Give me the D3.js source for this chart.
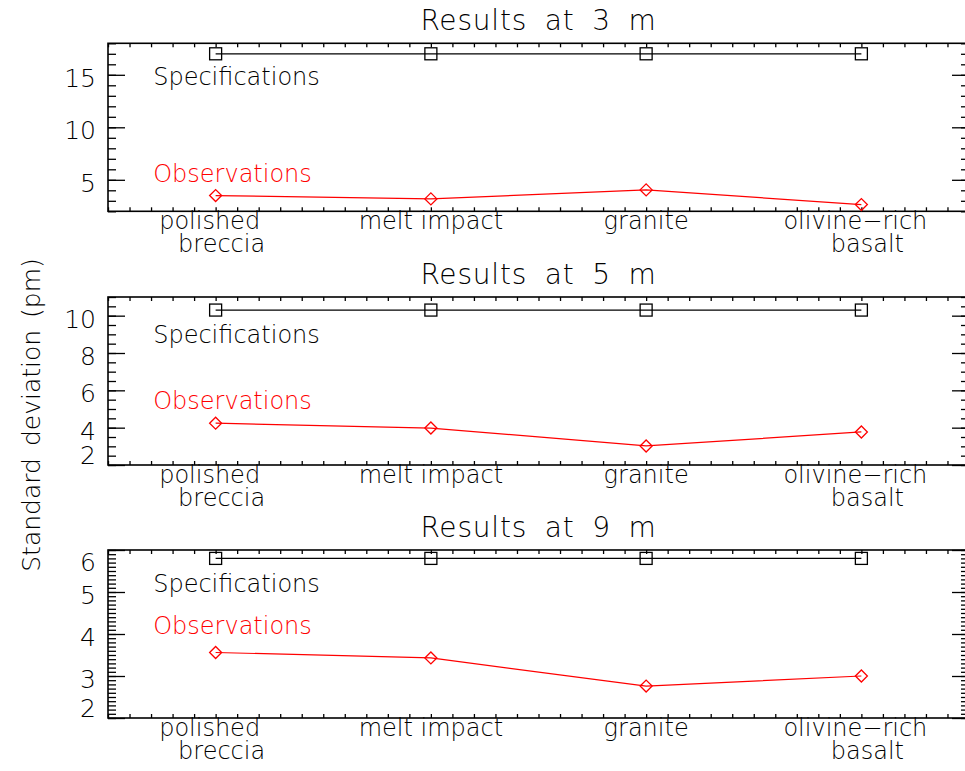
<!DOCTYPE html>
<html>
<head>
<meta charset="utf-8">
<script src="https://cdn.jsdelivr.net/npm/d3@7"></script>
<style>
  body { margin: 0; background: #fff; }
  svg { display: block; }
  text { font-family: "DejaVu Sans", sans-serif; font-weight: 200; }
</style>
</head>
<body>
<svg id="chart"></svg>
<script>
// categories along x (1..4)
const categories = ["polished\nbreccia", "melt impact", "granite", "olivine\u2212rich\nbasalt"]
const distances = [3, 5, 9]

// standard deviation values (pm) per distance
const specs3 = [17, 17, 17, 17]
const obs3 = [3.5, 3.18, 4.04, 2.64]
const specs5 = [10.3, 10.3, 10.3, 10.3]
const obs5 = [4.24, 3.98, 3.02, 3.77]
const specs9 = [5.8, 5.8, 5.8, 5.8]
const obs9 = [3.56, 3.43, 2.76, 3.0]

// y axis ranges and tick labels
const yRanges = [[2, 18], [2, 11], [2, 6]]
const yTicks3 = [5, 10, 15]
const yTicks5 = [2, 4, 6, 8, 10]
const yTicks9 = [2, 3, 4, 5, 6]
const yMinor = [1, 0.5, 0.1]

// where the "Specifications" / "Observations" notes sit (data units)
const specNoteY = [14, 8.55, 5.0]
const obsNoteY = [4.75, 5.0, 4.0]
const noteX = 0.71

const width = 965, height = 771
const left = 108, right = 969
const panelTop = [43.3, 297, 550], panelH = 168

const svg = d3.select("#chart").attr("width", width).attr("height", height)

const x = d3.scaleLinear().domain([0.5, 4.5]).range([left, right])
const xMinorTicks = d3.range(0.5, 4.5001, 0.1)

const panels = [
  {dist: distances[0], spec: specs3, obs: obs3, ticks: yTicks3},
  {dist: distances[1], spec: specs5, obs: obs5, ticks: yTicks5},
  {dist: distances[2], spec: specs9, obs: obs9, ticks: yTicks9}
]

panels.forEach(function(p, i){
  const top = panelTop[i], bottom = top + panelH
  const y = d3.scaleLinear().domain(yRanges[i]).range([bottom, top])
  const g = svg.append("g")

  // minor y ticks (left and right)
  const minorVals = d3.range(yRanges[i][0], yRanges[i][1] + 1e-6, yMinor[i])
  g.append("g").attr("transform", `translate(${left},0)`)
    .call(d3.axisLeft(y).tickValues(minorVals).tickSize(-8).tickSizeOuter(0).tickFormat(""))
  g.append("g").attr("transform", `translate(${right},0)`)
    .call(d3.axisRight(y).tickValues(minorVals).tickSize(-8).tickSizeOuter(0).tickFormat(""))
  // major y ticks
  g.append("g").attr("transform", `translate(${left},0)`)
    .call(d3.axisLeft(y).tickValues(p.ticks).tickSize(-17).tickSizeOuter(0).tickFormat(""))
  g.append("g").attr("transform", `translate(${right},0)`)
    .call(d3.axisRight(y).tickValues(p.ticks).tickSize(-17).tickSizeOuter(0).tickFormat(""))
  // x ticks top and bottom
  g.append("g").attr("transform", `translate(0,${bottom})`)
    .call(d3.axisBottom(x).tickValues(xMinorTicks).tickSize(-4).tickSizeOuter(0).tickFormat(""))
  g.append("g").attr("transform", `translate(0,${top})`)
    .call(d3.axisTop(x).tickValues(xMinorTicks).tickSize(-4).tickSizeOuter(0).tickFormat(""))

  g.selectAll(".domain").remove()
  g.selectAll(".tick line").attr("stroke", "#000").attr("stroke-width", 1.3)

  // frame
  g.append("rect").attr("x", left).attr("y", top)
    .attr("width", right - left).attr("height", panelH)
    .attr("fill", "none").attr("stroke", "#000").attr("stroke-width", 1.6)

  // y tick labels, kept inside the frame at the ends
  g.selectAll(".ylab").data(p.ticks).enter().append("text")
    .attr("x", left - 12)
    .attr("y", d => Math.max(top + 21, Math.min(bottom - 1, y(d) + 12)))
    .attr("text-anchor", "end").attr("font-size", 25)
    .text(d => d)

  // category labels
  categories.forEach(function(c, k){
    const lines = c.split("\n")
    lines.forEach(function(l, j){
      const shift = lines.length > 1 ? (j == 0 ? -6 : 6) : 0
      g.append("text").attr("font-size", 24).attr("text-anchor", "middle")
        .attr("x", x(k + 1) + shift)
        .attr("y", bottom + 18 + j * 23).text(l)
    })
  })

  // title
  g.append("text").attr("x", (left + right) / 2).attr("y", top - 13)
    .attr("text-anchor", "middle").attr("font-size", 28)
    .attr("letter-spacing", 0.8).attr("word-spacing", 8)
    .text("Results at " + p.dist + " m")

  // spec line and squares
  const line = d3.line().x((d, k) => x(k + 1)).y(d => y(d))
  g.append("path").datum(p.spec).attr("d", line)
    .attr("fill", "none").attr("stroke", "#000").attr("stroke-width", 1.2)
  g.selectAll(".sq").data(p.spec).enter().append("rect")
    .attr("x", (d, k) => x(k + 1) - 6).attr("y", d => y(d) - 6)
    .attr("width", 12).attr("height", 12)
    .attr("fill", "none").attr("stroke", "#000").attr("stroke-width", 1.3)

  // observation line and diamonds
  g.append("path").datum(p.obs).attr("d", line)
    .attr("fill", "none").attr("stroke", "#f00").attr("stroke-width", 1.2)
  g.selectAll(".dm").data(p.obs).enter().append("path")
    .attr("d", (d, k) => {
      const cx = x(k + 1), cy = y(d)
      return `M${cx - 6},${cy}L${cx},${cy - 6}L${cx + 6},${cy}L${cx},${cy + 6}Z`
    })
    .attr("fill", "none").attr("stroke", "#f00").attr("stroke-width", 1.3)

  // notes
  g.append("text").attr("x", x(noteX)).attr("y", y(specNoteY[i]))
    .attr("font-size", 24).attr("fill", "#000").text("Specifications")
  g.append("text").attr("x", x(noteX)).attr("y", y(obsNoteY[i]))
    .attr("font-size", 24).attr("fill", "#f00").text("Observations")
})

// shared y title
svg.append("text")
  .attr("transform", "translate(40,415) rotate(-90)")
  .attr("text-anchor", "middle").attr("font-size", 25)
  .attr("word-spacing", 4)
  .text("Standard deviation (pm)")
</script>
</body>
</html>
